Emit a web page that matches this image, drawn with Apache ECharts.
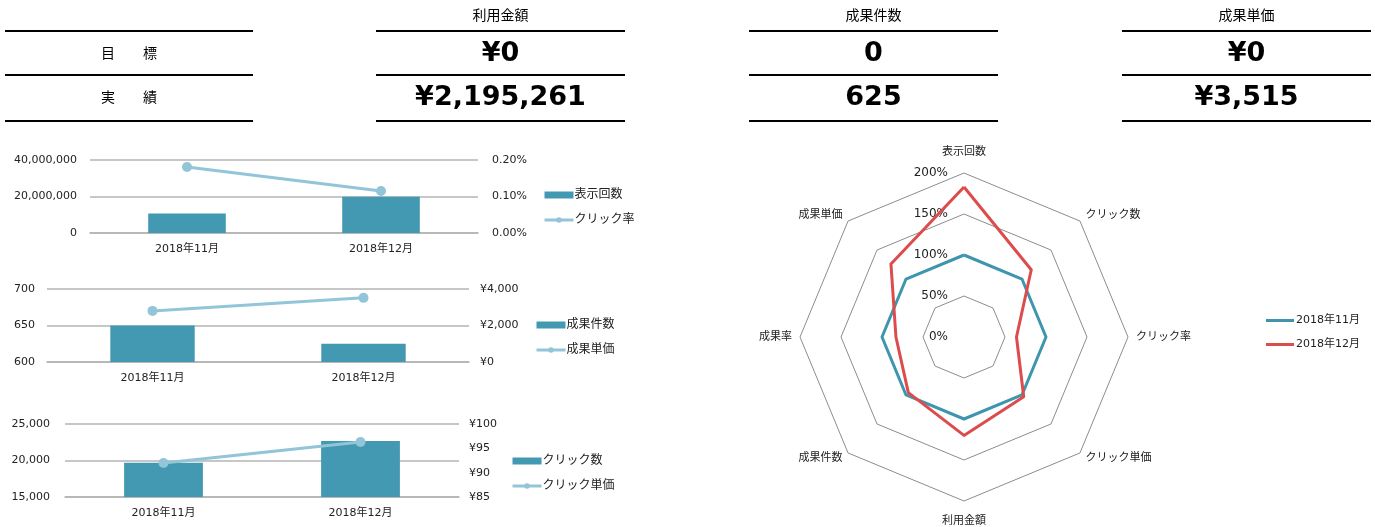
<!DOCTYPE html>
<html>
<head>
    <meta charset="utf-8" />
    <title>広告レポート</title>
    <script src="https://cdn.jsdelivr.net/npm/echarts@6/dist/echarts.min.js"></script>
    <style>
        body { margin: 0; background: #fff; }
    </style>
</head>
<body>
    <div style="width:1375px;height:527px;" id="echart"></div>
</body>
</html>
<script>
    // KPI表
    var rowLabels = ['目\u3000\u3000標', '実\u3000\u3000績'];
    var kpiHeaders = ['利用金額', '成果件数', '成果単価'];
    var kpiTargets = ['¥0', '0', '¥0'];
    var kpiActuals = ['¥2,195,261', '625', '¥3,515'];

    // 月別データ
    var months = ['2018年11月', '2018年12月'];
    var impressions = [10750000, 19800000];   // 表示回数
    var ctr = [0.181, 0.115];                 // クリック率(%)
    var conversions = [650, 625];             // 成果件数
    var cpa = [2800, 3515];                   // 成果単価
    var clicks = [19700, 22670];              // クリック数
    var cpc = [92.0, 96.3];                   // クリック単価

    // レーダー(前月比 %)
    var radarNames = ['表示回数', '成果単価', '成果率', '成果件数', '利用金額', 'クリック単価', 'クリック率', 'クリック数'];
    var radarNov = [100, 100, 100, 100, 100, 100, 100, 100];
    var radarDec = [183, 126, 83, 96, 120, 103, 64, 116];

    var FONT = '"DejaVu Sans", "Noto Sans CJK JP", sans-serif';
    var BAR = '#4399b1';
    var LINE = '#92c5d8';
    var GRID = '#b4b4b4';

    var myChart = echarts.init(document.getElementById('echart'), null, { renderer: 'canvas' });

    // 表をgraphicで描く
    var blocks = [[5, 253], [376, 625], [749, 998], [1122, 1371]];
    var graphic = [];
    blocks.forEach(function (b, i) {
        [31, 75, 121].forEach(function (y) {
            graphic.push({ type: 'line', shape: { x1: b[0], y1: y, x2: b[1], y2: y }, style: { stroke: '#000', lineWidth: 2 } });
        });
        var cx = (b[0] + b[1]) / 2;
        if (i === 0) {
            rowLabels.forEach(function (t, j) {
                graphic.push({ type: 'text', x: cx, y: [54, 98][j], style: { text: t, font: '14px ' + FONT, fill: '#000', textAlign: 'center', textVerticalAlign: 'middle' } });
            });
        } else {
            graphic.push({ type: 'text', x: cx, y: 16, style: { text: kpiHeaders[i - 1], font: '14px ' + FONT, fill: '#000', textAlign: 'center', textVerticalAlign: 'middle' } });
            graphic.push({ type: 'text', x: cx, y: 54, style: { text: kpiTargets[i - 1], font: 'bold 27px ' + FONT, fill: '#000', textAlign: 'center', textVerticalAlign: 'middle' } });
            graphic.push({ type: 'text', x: cx, y: 98, style: { text: kpiActuals[i - 1], font: 'bold 27px ' + FONT, fill: '#000', textAlign: 'center', textVerticalAlign: 'middle' } });
        }
    });

    var grids = [
        { left: 90, top: 160, width: 388, height: 73 },
        { left: 47, top: 289, width: 422, height: 73 },
        { left: 65, top: 424, width: 394, height: 73 }
    ];
    var leftAxes = [
        { min: 0, max: 40000000, interval: 20000000, fmt: function (v) { return v.toLocaleString('en-US'); } },
        { min: 600, max: 700, interval: 50, fmt: function (v) { return v; } },
        { min: 15000, max: 25000, interval: 5000, fmt: function (v) { return v.toLocaleString('en-US'); } }
    ];
    var rightAxes = [
        { min: 0, max: 0.2, interval: 0.1, fmt: function (v) { return v.toFixed(2) + '%'; } },
        { min: 0, max: 4000, interval: 2000, fmt: function (v) { return '¥' + v.toLocaleString('en-US'); } },
        { min: 85, max: 100, interval: 5, fmt: function (v) { return '¥' + v; } }
    ];
    var barData = [impressions, conversions, clicks];
    var lineData = [ctr, cpa, cpc];
    var barNames = ['表示回数', '成果件数', 'クリック数'];
    var lineNames = ['クリック率', '成果単価', 'クリック単価'];
    var legendPos = [[543, 189], [535, 319], [511, 455]];
    var leftMargins = [13, 12, 15];
    var rightMargins = [14, 11, 10];

    var xAxis = [], yAxis = [], series = [], legend = [];
    grids.forEach(function (g, i) {
        xAxis.push({
            type: 'category', gridIndex: i, data: months,
            axisLine: { lineStyle: { color: GRID, width: 1.5 } }, axisTick: { show: false },
            axisLabel: { color: '#222', fontSize: 11, fontFamily: FONT, margin: 11 }
        });
        yAxis.push({
            type: 'value', gridIndex: i, min: leftAxes[i].min, max: leftAxes[i].max, interval: leftAxes[i].interval,
            axisLine: { show: false }, axisTick: { show: false },
            splitLine: { lineStyle: { color: GRID, width: 1.5 } },
            axisLabel: { color: '#222', fontSize: 11, fontFamily: FONT, margin: leftMargins[i], formatter: leftAxes[i].fmt }
        });
        yAxis.push({
            type: 'value', gridIndex: i, position: 'right', min: rightAxes[i].min, max: rightAxes[i].max, interval: rightAxes[i].interval,
            axisLine: { show: false }, axisTick: { show: false }, splitLine: { show: false },
            axisLabel: { color: '#222', fontSize: 11, fontFamily: FONT, margin: rightMargins[i], formatter: rightAxes[i].fmt }
        });
        series.push({
            name: barNames[i], type: 'bar', xAxisIndex: i, yAxisIndex: i * 2,
            data: barData[i], barWidth: '40%', itemStyle: { color: BAR }
        });
        series.push({
            name: lineNames[i], type: 'line', xAxisIndex: i, yAxisIndex: i * 2 + 1,
            data: lineData[i], symbol: 'circle', symbolSize: 10,
            lineStyle: { color: LINE, width: 3 }, itemStyle: { color: LINE }
        });
        legend.push({
            data: [{ name: barNames[i], icon: 'rect' }, { name: lineNames[i] }], orient: 'vertical',
            left: legendPos[i][0], top: legendPos[i][1], padding: 0,
            itemWidth: 29, itemHeight: 7, itemGap: 13,
            lineStyle: { width: 3 },
            textStyle: { color: '#222', fontSize: 12, fontFamily: FONT, padding: [0, 0, 0, -4] }
        });
    });

    legend.push({
        data: months, orient: 'vertical', left: 1266, top: 315, padding: 0,
        icon: 'rect', itemWidth: 28, itemHeight: 3, itemGap: 13,
        textStyle: { color: '#222', fontSize: 11, fontFamily: FONT, padding: [0, 0, 0, -3] }
    });

    var indicator = radarNames.map(function (n, i) {
        var o = { name: n, min: 0, max: 200 };
        if (i > 0) o.axisLabel = { show: false };
        return o;
    });

    series.push({
        type: 'radar', radarIndex: 0, symbol: 'none',
        data: [
            { name: months[0], value: radarNov, lineStyle: { color: '#3f95ae', width: 3 }, itemStyle: { color: '#3f95ae' } },
            { name: months[1], value: radarDec, lineStyle: { color: '#dc4c4c', width: 3 }, itemStyle: { color: '#dc4c4c' } }
        ]
    });

    var option = {
        animation: false,
        grid: grids,
        xAxis: xAxis,
        yAxis: yAxis,
        legend: legend,
        radar: {
            center: [964, 337], radius: 164, startAngle: 90, splitNumber: 4,
            shape: 'polygon',
            indicator: indicator,
            axisName: {
                color: '#222', fontSize: 11, fontFamily: FONT,
                formatter: function (name) {
                    // 上下の項目名は少し離す
                    return radarNames.indexOf(name) % 4 === 0 ? '{tb|' + name + '}' : name;
                },
                rich: { tb: { color: '#222', fontSize: 11, fontFamily: FONT, lineHeight: 25 } }
            },
            nameGap: 8,
            axisLine: { show: false },
            splitArea: { show: false },
            splitLine: { lineStyle: { color: '#8c8c8c', width: 1 } },
            axisLabel: { show: true, color: '#222', fontSize: 12, fontFamily: FONT, formatter: '{value}%', align: 'right', margin: 16 }
        },
        graphic: graphic,
        series: series
    };
    myChart.setOption(option);
</script>
